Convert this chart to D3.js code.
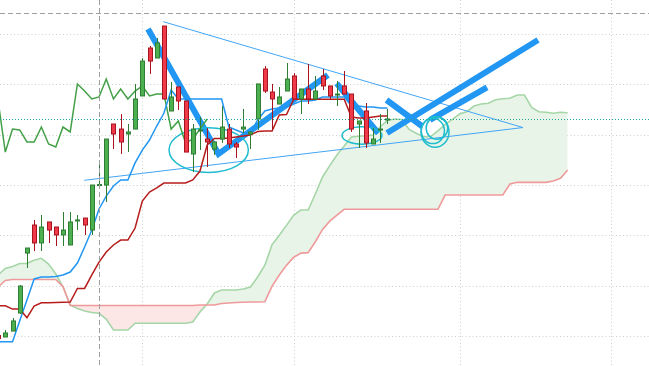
<!DOCTYPE html>
<html>
<head>
<meta charset="utf-8">
<script src="https://cdn.jsdelivr.net/npm/d3@7"></script>
<style>
html,body{margin:0;padding:0;background:#fff;}
svg{display:block;}
</style>
</head>
<body>
<div id="chart"></div>
<script>
const W = 649, H = 366;

// bars, one value per bar index
const opens = [1000.8,999.3,1005.2,1023.1,1082.5,1110.3,1092.5,1113.3,1108.3,1100.4,1090.5,1114.3,1117.2,1105.3,1149.9,1149.9,1210.4,1205.4,1200.5,1205.4,1238.2,1285.7,1275.8,1307.5,1223.3,1247.1,1233.2,1180.7,1203.5,1195.5,1185.6,1195.5,1205.4,1190.6,1205.4,1200.5,1215.4,1264.9,1242.1,1230.2,1243.1,1258.0,1235.2,1245.1,1235.2,1258.0,1248.1,1239.6,1248.1,1240.1,1210.4,1223.3,1190.6,1204.9,1214.9];
const highs = [1001.5,1006.2,1018.1,1050.8,1087.5,1115.3,1120.2,1113.3,1108.3,1123.2,1123.2,1120.2,1117.2,1149.9,1172.7,1195.5,1210.4,1220.3,1210.4,1250.1,1275.8,1287.7,1295.6,1307.5,1252.0,1247.1,1233.2,1210.4,1217.3,1206.4,1192.6,1228.2,1210.4,1192.6,1225.3,1202.5,1250.1,1267.9,1250.1,1247.1,1270.9,1260.9,1245.1,1269.9,1258.0,1264.9,1248.1,1253.0,1262.9,1240.1,1213.4,1231.2,1206.4,1220.3,1225.3];
const lows = [997.0,999.3,1005.2,1022.1,1067.7,1084.5,1084.5,1092.5,1089.5,1089.5,1090.5,1105.3,1100.4,1100.4,1149.9,1133.1,1185.6,1180.7,1182.6,1205.4,1238.2,1260.0,1275.8,1235.2,1223.3,1224.3,1182.6,1162.8,1184.6,1167.8,1179.7,1191.6,1186.6,1176.7,1201.5,1185.6,1204.5,1241.1,1205.4,1230.2,1243.1,1235.2,1220.3,1230.2,1235.2,1244.1,1235.2,1228.2,1240.1,1202.5,1186.6,1186.6,1190.6,1191.6,1210.4];
const closes = [997.8,1003.3,1015.2,1049.8,1087.5,1092.5,1108.3,1105.3,1100.4,1105.3,1113.3,1115.3,1110.3,1149.9,1150.4,1195.5,1200.5,1192.6,1202.5,1235.2,1272.8,1272.8,1290.7,1235.2,1237.2,1233.2,1182.6,1205.4,1204.5,1192.6,1192.6,1207.4,1190.6,1187.6,1207.4,1202.5,1250.1,1243.1,1235.2,1237.2,1255.0,1235.2,1245.1,1235.2,1243.1,1248.1,1238.2,1240.1,1240.1,1205.4,1213.4,1191.6,1195.5,1205.4,1215.4];

// ichimoku lines
const tenkan = [994.6,994.6,994.6,1015.4,1036.0,1056.8,1058.8,1058.8,1059.3,1060.7,1063.7,1072.6,1088.5,1105.3,1126.2,1139.0,1149.0,1154.9,1154.9,1171.8,1184.6,1194.5,1208.4,1221.3,1244.1,1235.2,1235.2,1235.2,1235.2,1235.2,1235.2,1235.2,1207.4,1204.5,1201.5,1201.5,1214.4,1223.3,1225.3,1226.3,1227.2,1230.2,1233.2,1233.2,1234.2,1237.2,1237.2,1237.2,1237.2,1228.2,1228.2,1227.2,1227.2,1226.3,1226.3];
const kijun = [1030.3,1030.3,1027.0,1027.0,1018.4,1030.0,1033.3,1033.3,1033.5,1033.7,1034.0,1047.4,1047.4,1060.8,1073.6,1083.5,1090.5,1095.4,1095.4,1107.3,1134.1,1143.0,1147.0,1151.9,1151.9,1151.9,1151.9,1154.9,1163.8,1189.6,1196.0,1196.0,1196.5,1197.5,1198.5,1199.5,1203.0,1203.5,1203.5,1219.3,1219.8,1234.9,1234.9,1234.9,1234.9,1234.9,1234.9,1234.9,1234.9,1217.3,1216.4,1216.4,1217.3,1218.3,1218.3];
const senkouA = [1060.8,1067.2,1069.2,1072.1,1072.3,1075.3,1077.3,1071.6,1061.7,1048.9,1031.0,1027.5,1025.1,1023.6,1022.8,1017.1,1006.2,1006.2,1006.2,1012.9,1012.9,1012.9,1012.9,1012.9,1012.9,1012.9,1012.9,1014.2,1024.1,1032.0,1042.9,1045.9,1045.9,1045.9,1046.9,1048.9,1058.8,1070.4,1090.9,1100.1,1109.9,1120.2,1125.2,1125.2,1141.0,1157.9,1169.2,1179.7,1188.5,1197.5,1198.2,1198.8,1199.5,1207.7,1213.9,1215.4,1214.9,1205.0,1201.2,1197.8,1198.0,1203.5,1209.9,1214.9,1220.3,1222.6,1228.2,1230.2,1230.9,1234.4,1235.4,1235.9,1239.1,1239.1,1226.8,1222.6,1222.0,1221.0,1222.0,1221.6];
const senkouB = [1048.9,1055.3,1056.3,1056.3,1056.3,1056.3,1056.3,1056.3,1056.3,1049.3,1030.5,1030.5,1030.5,1030.5,1030.5,1030.5,1030.5,1030.5,1030.5,1030.5,1030.5,1030.5,1030.5,1030.5,1030.5,1030.5,1030.5,1030.5,1031.0,1031.0,1031.0,1032.5,1033.0,1033.5,1033.7,1034.0,1034.0,1034.3,1049.8,1060.7,1070.3,1078.4,1082.4,1082.9,1093.7,1106.0,1114.1,1120.1,1125.9,1125.9,1125.9,1125.9,1125.9,1125.9,1125.9,1125.9,1125.9,1125.9,1125.9,1125.9,1125.9,1125.9,1140.0,1140.0,1140.0,1140.0,1140.0,1140.0,1140.0,1140.0,1140.0,1150.9,1152.6,1152.6,1152.6,1152.6,1152.6,1153.9,1156.6,1164.8];
const chikouShift = 25;

// grid + crosshair
const priceGrid = [1000,1050,1100,1150,1200,1250,1300];
const timeGrid = [20,41,64,85];
const crossIndex = 14, crossPrice = 1320.4;

// drawings, in [bar index, price]
const thickLines = [
	[[20.79,1304.6],[30.57,1180.7],[45.75,1259.0]],
	[[46.96,1250.7],[52.73,1201.2]],
	[[53.87,1234.2],[58.86,1207.9]],
	[[53.94,1201.5],[74.88,1293.7]],
	[[59.9,1214.4],[67.81,1246.8]]
];
const trendLines = [
	[[22.91,1311.8],[72.8,1206.9]],
	[[11.96,1154.6],[72.8,1206.9]]
];
const ellipses = [
	{i:29.21, p:1184.6, ri:5.5, rp:22.2},
	{i:50.47, p:1199.0, ri:2.77, rp:8.6},
	{i:60.6, p:1202.5, ri:1.94, rp:15.1},
	{i:60.87, p:1206.4, ri:1.5, rp:11.1},
	{i:60.3, p:1203.5, ri:1.6, rp:12.5}
];

const x = d3.scaleLinear().domain([0,90]).range([-1.9,647.0]);
const y = d3.scaleLinear().domain([1000,1300]).range([336.3,33.6]);

const svg = d3.select('#chart').append('svg')
	.attr('width',W)
	.attr('height',H);

//Grid
svg.append('g').selectAll('line')
	.data(priceGrid)
	.join('line')
	.attr('x1',0).attr('x2',W)
	.attr('y1',d => Math.round(y(d))+0.5).attr('y2',d => Math.round(y(d))+0.5)
	.attr('stroke','#cfcfcf')
	.attr('stroke-dasharray','1,2.5');
svg.append('g').selectAll('line')
	.data(timeGrid)
	.join('line')
	.attr('y1',0).attr('y2',H)
	.attr('x1',d => Math.round(x(d))+0.5).attr('x2',d => Math.round(x(d))+0.5)
	.attr('stroke','#cfcfcf')
	.attr('stroke-dasharray','1,2.5');

//Cloud
const cloud = senkouA.map((a,i) => ({i, a, b:senkouB[i]}));
const defs = svg.append('defs');
defs.append('clipPath').attr('id','aboveB')
	.append('path')
	.attr('d', d3.area().x(d => x(d.i)).y0(0).y1(d => y(d.b))(cloud));
defs.append('clipPath').attr('id','belowB')
	.append('path')
	.attr('d', d3.area().x(d => x(d.i)).y0(H).y1(d => y(d.b))(cloud));

const between = d3.area().x(d => x(d.i)).y0(d => y(d.a)).y1(d => y(d.b));
svg.append('path').datum(cloud)
	.attr('clip-path','url(#aboveB)')
	.attr('d',between)
	.attr('fill','#e9f4e9');
svg.append('path').datum(cloud)
	.attr('clip-path','url(#belowB)')
	.attr('d',between)
	.attr('fill','#fde6e6');

const line = d3.line().x((d,i) => x(i)).y(d => y(d));
svg.append('path').datum(senkouA)
	.attr('d',line).attr('fill','none')
	.attr('stroke','#a5d6a7').attr('stroke-width',1.6);
svg.append('path').datum(senkouB)
	.attr('d',line).attr('fill','none')
	.attr('stroke','#ef9a9a').attr('stroke-width',1.6);

//Drawings
const pt = d3.line().x(d => x(d[0])).y(d => y(d[1]));
svg.append('g').selectAll('path')
	.data(trendLines)
	.join('path')
	.attr('d',pt)
	.attr('fill','none')
	.attr('stroke','#42a5f5')
	.attr('stroke-width',1);
svg.append('g').selectAll('path')
	.data(thickLines)
	.join('path')
	.attr('d',pt)
	.attr('fill','none')
	.attr('stroke','#2196f3')
	.attr('stroke-width',6);
svg.append('g').selectAll('ellipse')
	.data(ellipses)
	.join('ellipse')
	.attr('cx',d => x(d.i))
	.attr('cy',d => y(d.p))
	.attr('rx',d => x(d.i+d.ri)-x(d.i))
	.attr('ry',d => y(d.p-d.rp)-y(d.p))
	.attr('fill','none')
	.attr('stroke','#1fbccf')
	.attr('stroke-width',1.5);

//Indicator lines
const chikou = closes.slice(chikouShift);
svg.append('path').datum(chikou)
	.attr('d',line).attr('fill','none')
	.attr('stroke','#43a047').attr('stroke-width',1.5);
svg.append('path').datum(tenkan)
	.attr('d',line).attr('fill','none')
	.attr('stroke','#2196f3').attr('stroke-width',1.5);
svg.append('path').datum(kijun)
	.attr('d',line).attr('fill','none')
	.attr('stroke','#b71c1c').attr('stroke-width',1.5);

//Candles
const bars = closes.map((c,i) => ({i, o:opens[i], h:highs[i], l:lows[i], c, up:c >= opens[i]}));
const candle = svg.append('g').selectAll('g')
	.data(bars)
	.join('g');
candle.append('line')
	.attr('x1',d => Math.round(x(d.i))+0.5).attr('x2',d => Math.round(x(d.i))+0.5)
	.attr('y1',d => y(d.h)).attr('y2',d => y(d.l))
	.attr('stroke',d => d.up ? '#2e7d32' : '#a8121e');
candle.append('rect')
	.attr('x',d => Math.round(x(d.i))-1.5)
	.attr('width',4)
	.attr('y',d => y(Math.max(d.o,d.c)))
	.attr('height',d => Math.max(1, Math.abs(y(d.o)-y(d.c))))
	.attr('fill',d => d.up ? '#4caf50' : '#ef3a4a')
	.attr('stroke',d => d.up ? '#2e7d32' : '#a8121e')
	.attr('stroke-width',1);

//Last price line
const last = closes[closes.length-1];
svg.append('line')
	.attr('x1',0).attr('x2',W)
	.attr('y1',Math.round(y(last))+0.5).attr('y2',Math.round(y(last))+0.5)
	.attr('stroke','#26a69a')
	.attr('stroke-dasharray','1,2');

//Crosshair
svg.append('line')
	.attr('x1',Math.round(x(crossIndex))+0.5).attr('x2',Math.round(x(crossIndex))+0.5)
	.attr('y1',0).attr('y2',H)
	.attr('stroke','#9e9e9e')
	.attr('stroke-dasharray','5,3');
svg.append('line')
	.attr('x1',0).attr('x2',W)
	.attr('y1',Math.round(y(crossPrice))+0.5).attr('y2',Math.round(y(crossPrice))+0.5)
	.attr('stroke','#9e9e9e')
	.attr('stroke-dasharray','5,3');
</script>
</body>
</html>
